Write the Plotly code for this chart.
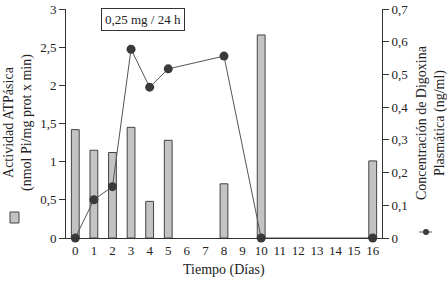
import plotly.graph_objects as go

days = list(range(0, 17))
day_labels = [str(d) for d in days]

bar_days = [0, 1, 2, 3, 4, 5, 8, 10, 16]
atpase = [1.42, 1.15, 1.12, 1.45, 0.48, 1.28, 0.71, 2.66, 1.01]

line_days = [0, 1, 2, 3, 4, 5, 8, 10, 16]
digoxin = [0.0, 0.117, 0.157, 0.577, 0.461, 0.517, 0.556, 0.0, 0.0]

FONT = "Liberation Serif"
INK = "#222222"
W, H = 447, 285
L, R, T, B = 66, 65, 9, 47
PW, PH = W - L - R, H - T - B

def px(xp):
    return (xp - L) / PW

def py(yp):
    return (H - B - yp) / PH

TICKFONT = dict(family=FONT, size=13, color=INK)

fig = go.Figure()
fig.add_trace(go.Bar(
    x=bar_days, y=atpase, width=0.42,
    marker=dict(color="#c3c3c3", line=dict(color="#444444", width=1)),
    showlegend=False, hoverinfo="skip",
))
fig.add_trace(go.Scatter(
    x=line_days, y=digoxin, yaxis="y2", mode="lines+markers",
    line=dict(color="#555555", width=1),
    marker=dict(color="#3a3a3a", size=9),
    cliponaxis=False, showlegend=False, hoverinfo="skip",
))

fig.update_layout(
    template="none",
    width=W, height=H,
    margin=dict(l=L, r=R, t=T, b=B, autoexpand=False),
    plot_bgcolor="white", paper_bgcolor="white",
    separators=",.",
    font=dict(family=FONT, size=13, color=INK),
    xaxis=dict(
        range=[-0.5, 16.5], tickmode="array", tickvals=days, ticktext=day_labels,
        showline=True, linecolor="#333333", linewidth=1, showgrid=False, zeroline=False,
        ticks="", tickfont=TICKFONT, automargin=False,
    ),
    yaxis=dict(
        range=[0, 3], dtick=0.5, showline=True, linecolor="#333333", linewidth=1,
        showgrid=False, zeroline=False, ticks="outside", ticklen=6, tickcolor="#333333",
        tickfont=TICKFONT, automargin=False,
    ),
    yaxis2=dict(
        range=[0, 0.7], dtick=0.1, overlaying="y", side="right",
        showline=True, linecolor="#333333", linewidth=1,
        showgrid=False, zeroline=False, ticks="outside", ticklen=6, tickcolor="#333333",
        tickfont=TICKFONT, automargin=False,
    ),
    bargap=0.5,
)

def note(x, y, text, size=14, angle=0, **kw):
    fig.add_annotation(xref="paper", yref="paper", x=px(x), y=py(y), text=text,
                       xanchor="center", yanchor="middle", textangle=angle,
                       showarrow=False, font=dict(family=FONT, size=size, color=INK), **kw)

note(143, 19, "0,25 mg / 24 h", size=13, bordercolor="#333333", borderwidth=1,
     borderpad=3, bgcolor="white")
note(224, 270, "Tiempo (Días)")
note(18, 123, "Actividad ATPásica<br>(nmol Pi/mg prot x min)", angle=-90)
note(431, 123, "Concentración de Digoxina<br>Plasmática (ng/ml)", angle=-90)

# legend keys beside the axis titles
fig.add_shape(type="rect", xref="paper", yref="paper",
              x0=px(10), x1=px(19), y0=py(223), y1=py(212),
              fillcolor="#c3c3c3", line=dict(color="#444444", width=1))
fig.add_shape(type="line", xref="paper", yref="paper",
              x0=px(419), x1=px(432), y0=py(232), y1=py(232),
              line=dict(color="#555555", width=1))
fig.add_shape(type="circle", xref="paper", yref="paper",
              x0=px(423), x1=px(429), y0=py(235), y1=py(229),
              fillcolor="#3a3a3a", line=dict(color="#3a3a3a", width=0))

fig.write_html("out.html", config={"displayModeBar": False},
               post_script="document.body.style.margin='0';document.body.style.overflow='hidden';")
